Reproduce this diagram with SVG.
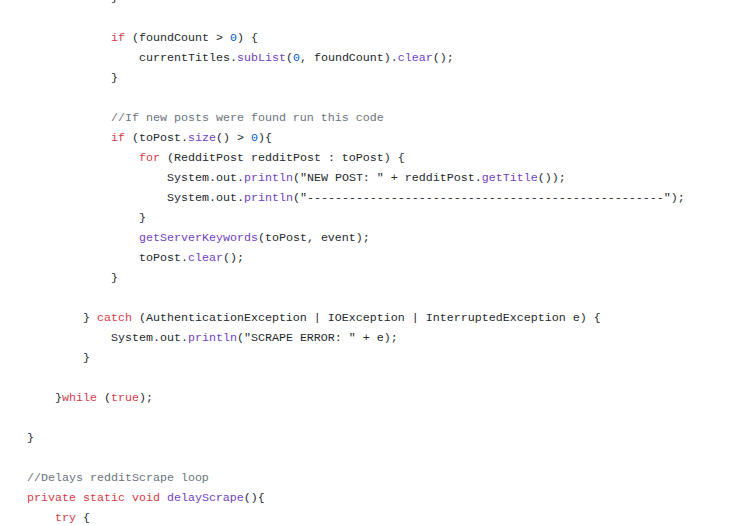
<svg xmlns="http://www.w3.org/2000/svg" width="748" height="526" viewBox="0 0 748 526">
<style>
text{font-family:"Liberation Mono","DejaVu Sans Mono",monospace;font-size:11.67px;fill:#24292e;white-space:pre}
.k{fill:#d73a49}.f{fill:#6f42c1}.n{fill:#005cc5}.c{fill:#6a737d}
</style>
<rect width="748" height="526" fill="#fff"/>
<g id="code">
<text x="111" y="1">}</text>
<text x="111" y="41"><tspan class="k">if</tspan> (foundCount &gt; <tspan class="n">0</tspan>) {</text>
<text x="139" y="61">currentTitles.<tspan class="f">subList</tspan>(<tspan class="n">0</tspan>, foundCount).<tspan class="f">clear</tspan>();</text>
<text x="111" y="81">}</text>
<text x="111" y="121" class="c">//If new posts were found run this code</text>
<text x="111" y="141"><tspan class="k">if</tspan> (toPost.<tspan class="f">size</tspan>() &gt; <tspan class="n">0</tspan>){</text>
<text x="139" y="161"><tspan class="k">for</tspan> (RedditPost redditPost : toPost) {</text>
<text x="167" y="181">System.out.<tspan class="f">println</tspan>("NEW POST: " + redditPost.<tspan class="f">getTitle</tspan>());</text>
<text x="167" y="201">System.out.<tspan class="f">println</tspan>("---------------------------------------------------");</text>
<text x="139" y="221">}</text>
<text x="139" y="241"><tspan class="f">getServerKeywords</tspan>(toPost, event);</text>
<text x="139" y="261">toPost.<tspan class="f">clear</tspan>();</text>
<text x="111" y="281">}</text>
<text x="83" y="321">} <tspan class="k">catch</tspan> (AuthenticationException | IOException | InterruptedException e) {</text>
<text x="111" y="341">System.out.<tspan class="f">println</tspan>("SCRAPE ERROR: " + e);</text>
<text x="83" y="361">}</text>
<text x="55" y="401">}<tspan class="k">while</tspan> (<tspan class="k">true</tspan>);</text>
<text x="27" y="441">}</text>
<text x="27" y="481" class="c">//Delays redditScrape loop</text>
<text x="27" y="501"><tspan class="k">private static void</tspan> <tspan class="f">delayScrape</tspan>(){</text>
<text x="55" y="521"><tspan class="k">try</tspan> {</text>
</g>
</svg>
